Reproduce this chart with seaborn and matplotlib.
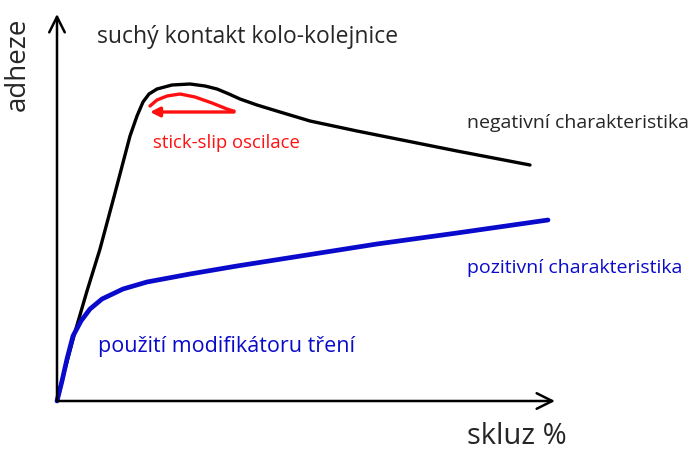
import matplotlib.pyplot as plt
import seaborn as sns
import pandas as pd

sns.set_theme(style="white")
plt.rcParams["font.family"] = ["Open Sans", "DejaVu Sans"]

# schematic curves, coordinates (slip, adhesion)
dry_slip = [0, 8, 18, 30, 43, 58, 73, 80, 86, 92, 100, 115, 133, 148, 160, 172, 183, 200, 223, 253, 300, 350, 400, 473]
dry_adh = [0, 32, 69, 110, 152, 208, 265, 285, 299, 307, 312, 316, 317, 315, 312, 307, 302, 296, 289, 280, 270, 260, 250, 236]

mod_slip = [0, 5, 10, 16, 24, 33, 45, 66, 90, 133, 180, 250, 320, 400, 491]
mod_adh = [0, 20, 42, 65, 80, 92, 102, 112, 119, 127, 135, 146, 157, 168, 181]

# stick-slip loop (upper arc, then return stroke)
loop_slip = [93, 100, 110, 123, 138, 155, 170, 176, 177]
loop_adh = [295, 301, 305, 307, 304, 298, 292, 290, 290]
ret_slip = [177, 93]
ret_adh = [289, 289]

fig = plt.figure(figsize=(6.89, 4.52), dpi=100)
ax = fig.add_axes([0, 0, 1, 1])

sns.lineplot(x=dry_slip, y=dry_adh, ax=ax, color="black", lw=2.4, sort=False,
             solid_capstyle="round", solid_joinstyle="round")
sns.lineplot(x=mod_slip, y=mod_adh, ax=ax, color="#0a0acc", lw=3.4, sort=False,
             solid_capstyle="round", solid_joinstyle="round")
sns.lineplot(x=loop_slip, y=loop_adh, ax=ax, color="#ff1010", lw=2.4, sort=False,
             solid_capstyle="round")
ax.annotate("", xy=(ret_slip[1], ret_adh[1]), xytext=(ret_slip[0], ret_adh[0]),
            arrowprops=dict(arrowstyle="-|>", color="#ff1010", lw=2.4,
                            mutation_scale=14, shrinkA=0, shrinkB=0))

# axes arrows
ax.annotate("", xy=(0, 387), xytext=(0, 0),
            arrowprops=dict(arrowstyle="->", color="black", lw=1.8,
                            mutation_scale=28, shrinkA=0, shrinkB=0))
ax.annotate("", xy=(498, 0), xytext=(0, 0),
            arrowprops=dict(arrowstyle="->", color="black", lw=1.8,
                            mutation_scale=28, shrinkA=0, shrinkB=0))

ax.text(40, 365, "suchý kontakt kolo-kolejnice", fontsize=16.5, va="center")
ax.text(-39, 338, "adheze", fontsize=20, rotation=90, ha="center", va="center")
ax.text(410, 279, "negativní charakteristika", fontsize=14, va="center")
ax.text(96, 259, "stick-slip oscilace", fontsize=13.3, va="center", color="#ff1010")
ax.text(410, 134, "pozitivní charakteristika", fontsize=14, va="center", color="#0a0acc")
ax.text(41, 55, "použití modifikátoru tření", fontsize=15.5, va="center", color="#0a0acc")
ax.text(410, -35, "skluz %", fontsize=21, va="center")

ax.set_xlim(-57, 632)
ax.set_ylim(-50, 402)
ax.axis("off")

fig.savefig("out.png", dpi=100)
